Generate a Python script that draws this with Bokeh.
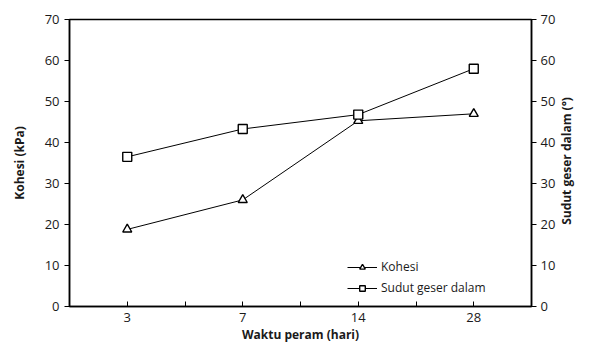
import math
from bokeh.plotting import figure
from bokeh.models import LinearAxis, Range1d, FixedTicker, Legend, LegendItem, Label
from bokeh.embed import file_html
from bokeh.resources import INLINE

categories = ["3", "7", "14", "28"]
kohesi = [18.8, 26.0, 45.3, 47.0]
sudut = [36.5, 43.3, 46.8, 58.0]
y_ticks = [0, 10, 20, 30, 40, 50, 60, 70]

xs = [i + 0.5 for i in range(len(categories))]
FONT = "Open Sans"
TXT = "#1a1a1a"
W, H = 575, 345
BL, BR, BT, BB = 69, 43, 19, 35

p = figure(width=W, height=H, output_backend="svg", toolbar_location=None,
           x_range=Range1d(0, len(categories)), y_range=Range1d(0, 70),
           min_border_left=BL, min_border_right=BR, min_border_top=BT, min_border_bottom=BB)
p.extra_y_ranges = {"right": Range1d(0, 70)}
p.grid.visible = False
p.outline_line_color = "black"
p.outline_line_width = 1.5
p.background_fill_color = "white"
p.border_fill_color = "white"

# x axis
xa = p.xaxis[0]
xa.ticker = FixedTicker(ticks=[i * 0.5 for i in range(2 * len(categories) + 1)])
overrides = {}
for i in range(2 * len(categories) + 1):
    overrides[i * 0.5] = ""
for x, c in zip(xs, categories):
    overrides[x] = c
xa.major_label_overrides = overrides
xa.major_tick_in = 5
xa.major_tick_out = 0
xa.minor_tick_line_color = None
xa.axis_line_width = 1.5
xa.axis_label = "Waktu peram (hari)"
xa.axis_label_text_font = FONT
xa.axis_label_text_font_style = "bold"
xa.axis_label_text_font_size = "12px"
xa.axis_label_text_color = TXT
xa.axis_label_standoff = 1
xa.major_label_text_font = FONT
xa.major_label_text_font_size = "13px"
xa.major_label_text_color = TXT
xa.major_label_standoff = 6

# left y axis
ya = p.yaxis[0]
ya.ticker = FixedTicker(ticks=y_ticks)
ya.major_tick_in = 0
ya.major_tick_out = 5
ya.minor_tick_line_color = None
ya.axis_line_width = 1.5
ya.axis_label = "Kohesi (kPa)"
ya.axis_label_text_font = FONT
ya.axis_label_text_font_style = "bold"
ya.axis_label_text_font_size = "12px"
ya.axis_label_text_color = TXT
ya.axis_label_standoff = 14
ya.major_label_text_font = FONT
ya.major_label_text_font_size = "13px"
ya.major_label_text_color = TXT
ya.major_label_standoff = 5

# right y axis
ra = LinearAxis(y_range_name="right", ticker=FixedTicker(ticks=y_ticks))
ra.major_tick_in = 0
ra.major_tick_out = 5
ra.minor_tick_line_color = None
ra.axis_line_width = 1.5
ra.major_label_text_font = FONT
ra.major_label_text_font_size = "13px"
ra.major_label_text_color = TXT
ra.major_label_standoff = 4
p.add_layout(ra, "right")

fh = H - BT - BB
right_label = Label(x=8, y=fh / 2, x_units="screen", y_units="screen",
                    text="Sudut geser dalam (°)", angle=math.pi / 2,
                    text_align="center", text_baseline="middle",
                    text_font=FONT, text_font_style="bold", text_font_size="12px",
                    text_color=TXT)
p.add_layout(right_label, "right")

l1 = p.line(xs, kohesi, line_color="black", line_width=1)
m1 = p.scatter(xs, kohesi, marker="triangle", size=9, fill_color="white",
               line_color="black", line_width=1.4)
l2 = p.line(xs, sudut, line_color="black", line_width=1, y_range_name="right")
m2 = p.scatter(xs, sudut, marker="square", size=9, fill_color="white",
               line_color="black", line_width=1.4, y_range_name="right")

legend = Legend(items=[LegendItem(label="Kohesi", renderers=[l1, m1]),
                       LegendItem(label="Sudut geser dalam", renderers=[l2, m2])],
                location=(278, 10), border_line_color=None, background_fill_alpha=0,
                label_text_font=FONT, label_text_font_size="12px", label_text_color=TXT,
                glyph_width=30, glyph_height=14, spacing=4, padding=2, label_standoff=4)
p.add_layout(legend, "center")

open("out.html", "w").write(file_html(p, INLINE))
